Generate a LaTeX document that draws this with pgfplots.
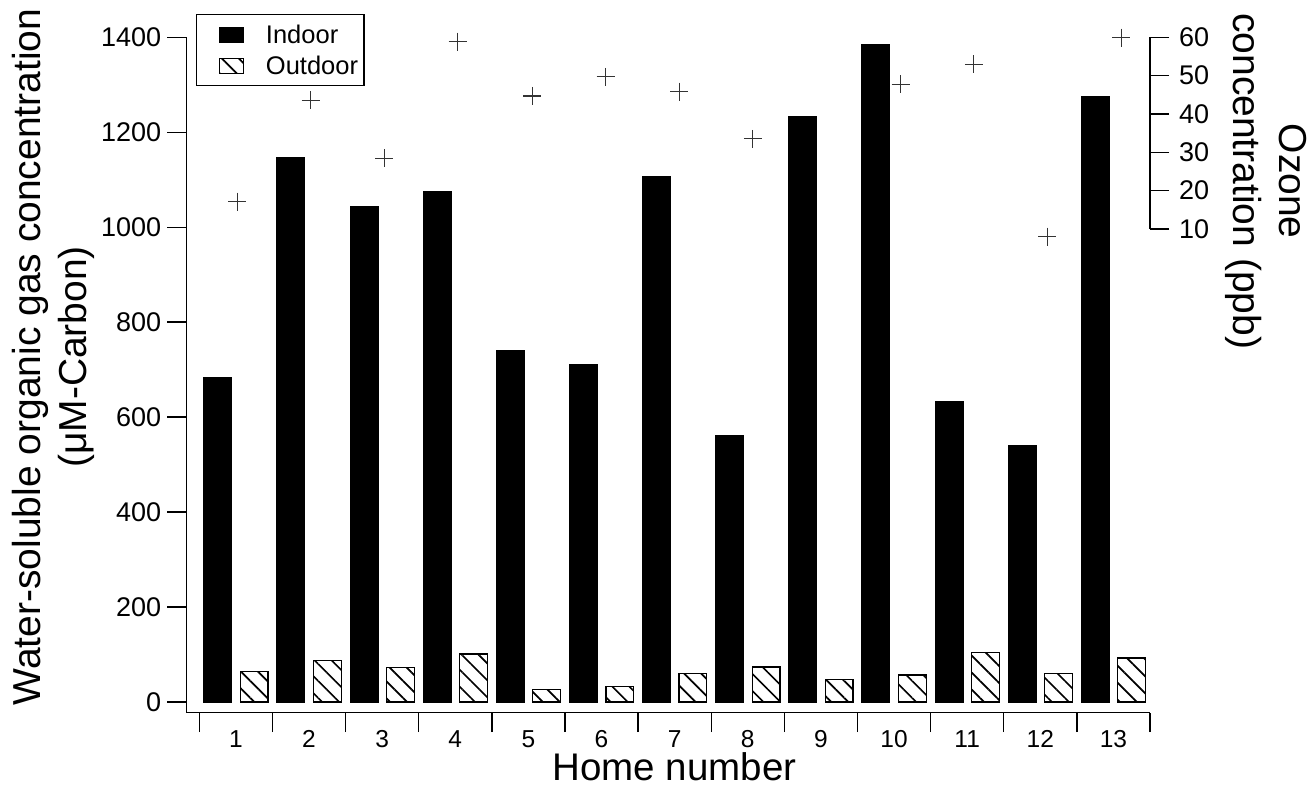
\documentclass[border=0pt]{standalone}
\usepackage{fontspec}
\setmainfont{Liberation Sans}
\usepackage{pgfplots}
\pgfplotsset{compat=1.18}
\usetikzlibrary{patterns.meta}

\pgfplotsset{
  mylegend/.style={legend image code/.code={\path (-16pt,0pt); \draw[##1,line width=1.2pt] (0pt,-7.5pt) rectangle (24pt,7.5pt);}},
}

\begin{document}
\begin{tikzpicture}
\path[use as bounding box] (0pt,0pt) rectangle (1311pt,787pt);
\begin{axis}[
  at={(186.7pt,74.3pt)}, anchor=south west,
  scale only axis, width=963.3pt, height=675.4pt,
  xmin=0.328, xmax=13.5, ymin=-22.5, ymax=1400,
  axis x line=bottom, axis y line=left,
  axis line style={-, line width=1.4pt, black},
  clip=false,
  tick align=outside,
  major tick length=19.3pt, minor tick length=19.3pt,
  xtick={1,...,13}, minor xtick={0.5,1.5,...,13.5},
  ytick={0,200,...,1400},
  tick style={line width=1.4pt, black},
  major x tick style={draw=none},
  /pgf/number format/assume math mode=true,
  /pgf/number format/1000 sep={},
  xticklabel style={font=\fontsize{24.5}{28}\selectfont, inner sep=0pt, yshift=2pt},
  yticklabel style={font=\fontsize{27}{31}\selectfont, inner sep=6pt},
  xlabel={Home number},
  xlabel style={font=\fontsize{38.5}{46}\selectfont, at={(axis description cs:0.5064,0)}, anchor=north, inner sep=0pt, yshift=-40pt},
  ylabel={Water-soluble organic gas concentration\\(μM-Carbon)},
  ylabel style={align=center, font=\fontsize{39}{46}\selectfont, at={(axis description cs:-0.1383,0.5267)}, anchor=center},
  legend style={at={(0.0097,1.0345)}, anchor=north west, draw=black, line width=1.3pt,
     font=\fontsize{25.5}{30}\selectfont, inner xsep=6pt, inner ysep=10pt, row sep=11pt,
     nodes={inner sep=0pt}, /tikz/every odd column/.append style={column sep=22pt}},
  legend cell align=left,
]
\addplot[ybar, bar width=27.8pt, bar shift=-18.1pt, fill=black, draw=black, line width=1.2pt, mylegend]
 coordinates {(1,683) (2,1146) (3,1044) (4,1076) (5,740) (6,710) (7,1107) (8,561) (9,1234) (10,1385) (11,632) (12,541) (13,1276)};
\addlegendentry{Indoor}
\addplot[ybar, bar width=27.8pt, bar shift=18.3pt, draw=black, line width=1.3pt,
   pattern={Lines[angle=-45,distance=12pt,line width=1.7pt]}, mylegend]
 coordinates {(1,65) (2,88) (3,72) (4,101) (5,26) (6,32) (7,60) (8,74) (9,48) (10,57) (11,105) (12,60) (13,93)};
\addlegendentry{Outdoor}
\end{axis}
\begin{axis}[
  at={(186.7pt,74.3pt)}, anchor=south west,
  scale only axis, width=963.3pt, height=675.4pt,
  xmin=0.328, xmax=13.5, ymin=-116.2, ymax=60,
  hide x axis, axis y line=right, y axis line style={draw=none},
  clip=false, tick align=outside, major tick length=19pt,
  ytick={10,20,...,60},
  tick style={line width=1.4pt, black},
  /pgf/number format/assume math mode=true,
  yticklabel style={font=\fontsize{27}{31}\selectfont, inner sep=0pt, xshift=10pt},
]
\addplot[only marks, mark=+, mark size=9pt, black!80, line width=1.2pt]
 coordinates {(1.019,17.1) (2.023,43.6) (3.029,28.4) (4.032,58.9) (5.052,44.7) (6.056,49.7) (7.062,45.8) (8.069,33.5) (10.089,47.7) (11.091,53.0) (12.098,8.0) (13.110,59.9)};
\draw[line width=1.4pt] (axis cs:13.5,10) -- (axis cs:13.5,60);
\node[rotate=-90, align=center, font=\fontsize{39}{46}\selectfont] at (rel axis cs:1.1204,0.787) {Ozone\\concentration (ppb)};
\end{axis}
\end{tikzpicture}
\end{document}
